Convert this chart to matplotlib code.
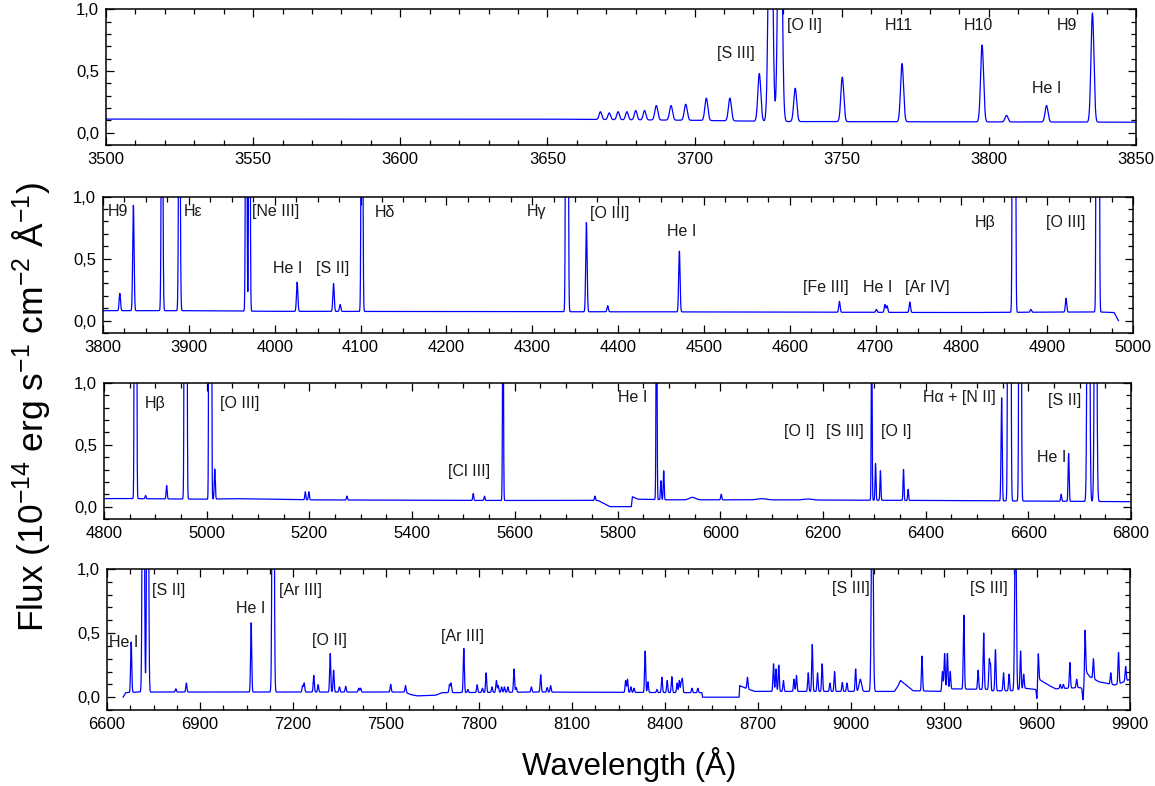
import numpy as np
import matplotlib
matplotlib.use("Agg")
import matplotlib.pyplot as plt
from matplotlib.ticker import MultipleLocator, FuncFormatter

plt.rcParams['font.family'] = ['Liberation Sans', 'DejaVu Sans']
plt.rcParams['mathtext.default'] = 'regular'

LINE_COLOR = '#0000FF'

# ---------------- Panel 1: 3500-3850 A ----------------
p1_xlim = (3500, 3850)
p1_cont_wave = [3500, 3650, 3700, 3730, 3850]
p1_cont_flux = [0.11, 0.11, 0.10, 0.09, 0.085]
p1_line_wave = [3668, 3671, 3674, 3677, 3680, 3683, 3687, 3692, 3697, 3704, 3712,
                3722, 3725.8, 3729.0, 3734.2, 3750.2, 3770.5, 3797.7, 3806, 3819.6, 3835.2]
p1_line_peak = [0.17, 0.16, 0.17, 0.17, 0.18, 0.18, 0.22, 0.22, 0.23, 0.28, 0.28,
                0.48, 3.0, 3.0, 0.36, 0.45, 0.56, 0.71, 0.14, 0.22, 0.97]
p1_line_sig = [0.45, 0.45, 0.45, 0.45, 0.45, 0.45, 0.5, 0.5, 0.5, 0.5, 0.5,
               0.5, 0.6, 0.6, 0.5, 0.5, 0.5, 0.5, 0.5, 0.5, 0.5]
p1_labels = ['[S III]', '[O II]', 'H11', 'H10', 'He I', 'H9']
p1_label_x = [3714, 3737.5, 3769.4, 3796.3, 3819.6, 3826.4]
p1_label_y = [0.64, 0.87, 0.87, 0.87, 0.36, 0.87]

# ---------------- Panel 2: 3800-5000 A ----------------
p2_xlim = (3800, 5000)
p2_cont_wave = [3800, 3900, 4000, 4500, 4800, 4960, 4978, 4983]
p2_cont_flux = [0.08, 0.08, 0.075, 0.07, 0.065, 0.07, 0.065, 0.0]
p2_line_wave = [3819.6, 3835.4, 3868.8, 3889.0, 3966.8, 3970.6, 4026.2, 4068.6, 4076.3,
                4101.7, 4340.5, 4363.2, 4388.0, 4471.5, 4658.0, 4701.0, 4711.0, 4713.5,
                4740.0, 4861.3, 4881.0, 4922.0, 4958.9]
p2_line_peak = [0.22, 0.93, 3.0, 3.0, 4.0, 4.0, 0.31, 0.30, 0.13,
                5.0, 15.0, 0.79, 0.12, 0.56, 0.155, 0.09, 0.13, 0.12,
                0.15, 30.0, 0.09, 0.18, 40.0]
p2_line_sig = [0.8, 0.8, 0.8, 0.8, 0.68, 0.68, 0.8, 0.8, 0.8,
               0.75, 0.86, 0.8, 0.8, 0.8, 0.8, 0.8, 0.8, 0.8,
               0.8, 0.9, 0.8, 0.8, 0.85]
p2_labels = ['H9', 'H\u03b5', '[Ne III]', 'He I', '[S II]', 'H\u03b4', 'H\u03b3', '[O III]',
             'He I', '[Fe III]', 'He I', '[Ar IV]', 'H\u03b2', '[O III]']
p2_label_x = [3817.5, 3905, 4001, 4015.5, 4068, 4128, 4305.6, 4390.7,
              4474.6, 4642, 4702, 4760.5, 4827.6, 4921]
p2_label_y = [0.88, 0.88, 0.88, 0.42, 0.42, 0.87, 0.88, 0.866,
              0.72, 0.27, 0.27, 0.27, 0.79, 0.79]

# ---------------- Panel 3: 4800-6800 A ----------------
p3_xlim = (4800, 6800)
p3_cont_wave = [4800, 4850, 5000, 5050, 5200, 5500, 5762, 5785, 5827, 5829, 5840,
                5900, 6100, 6400, 6600, 6800]
p3_cont_flux = [0.065, 0.065, 0.06, 0.065, 0.055, 0.05, 0.05, 0.0, 0.0, 0.08, 0.06,
                0.055, 0.055, 0.05, 0.045, 0.04]
p3_line_wave = [4861.3, 4881.0, 4922.0, 4958.9, 5006.8, 5015.7, 5192.0, 5199.0, 5273.0,
                5519.0, 5541.0, 5577.0, 5756.0, 5876.0, 5884.5, 5890.0, 5946.0, 6002.0,
                6080.0, 6170.0, 6295.0, 6302.5, 6312.0, 6357.0, 6366.0, 6548.0, 6563.0,
                6584.0, 6664.0, 6678.5, 6717.0, 6731.0]
p3_line_peak = [30.0, 0.09, 0.17, 30.0, 80.0, 0.305, 0.12, 0.12, 0.085,
                0.106, 0.085, 2.0, 0.085, 2.0, 0.21, 0.29, 0.075, 0.10,
                0.065, 0.062, 1.6, 0.35, 0.29, 0.30, 0.14, 0.88, 30.0,
                10.0, 0.10, 0.43, 6.0, 4.0]
p3_line_sig = [1.15, 1.0, 1.0, 1.3, 1.15, 1.0, 1.0, 1.0, 1.0,
               1.0, 1.0, 0.85, 1.0, 0.9, 0.9, 0.9, 6.0, 1.0,
               8.0, 8.0, 0.8, 0.9, 0.9, 0.9, 0.9, 1.1, 1.5,
               1.4, 1.0, 1.0, 1.8, 1.8]
p3_labels = ['H\u03b2', '[O III]', '[Cl III]', 'He I', '[O I]', '[S III]', '[O I]',
             'H\u03b1 + [N II]', 'He I', '[S II]']
p3_label_x = [4898.7, 5064, 5510, 5829, 6153.5, 6243.6, 6343.5, 6465.7, 6644.8, 6670]
p3_label_y = [0.836, 0.836, 0.285, 0.88, 0.61, 0.61, 0.61, 0.88, 0.40, 0.86]

# ---------------- Panel 4: 6600-9900 A ----------------
p4_xlim = (6600, 9900)
p4_cont_wave = [6652, 6660, 6700, 7000, 7560, 7580, 7600, 7660, 7680, 8000, 8519, 8521,
                8639, 8641, 8660, 8690, 9140, 9150, 9160, 9180, 9200, 9290, 9300, 9320,
                9450, 9455, 9525, 9560, 9598, 9606, 9640, 9660, 9740, 9752, 9758, 9770,
                9800, 9850, 9870, 9900]
p4_cont_flux = [0.0, 0.035, 0.04, 0.04, 0.04, 0.02, 0.01, 0.015, 0.035, 0.04, 0.035, 0.0,
                0.0, 0.09, 0.07, 0.045, 0.045, 0.08, 0.13, 0.09, 0.05, 0.045, 0.075, 0.065,
                0.06, 0.05, 0.05, 0.07, 0.06, 0.14, 0.09, 0.065, 0.075, 0.06, 0.2, 0.16,
                0.12, 0.095, 0.11, 0.14]
p4_line_wave = [6678, 6717, 6731, 6822, 6856, 7065, 7135.8, 7231, 7236, 7267, 7281,
                7320, 7331, 7350, 7370, 7412, 7418, 7515, 7563, 7705, 7710, 7751, 7764,
                7794, 7811, 7823, 7842, 7856, 7862, 7873, 7882, 7893, 7913, 7920, 7969,
                7999, 8020, 8031, 8273, 8279, 8290, 8300, 8336, 8345, 8374, 8390, 8407,
                8422, 8439, 8446, 8452, 8456, 8487, 8506, 8666, 8750, 8758, 8767, 8782,
                8816, 8824, 8862, 8875, 8892, 8907, 8932, 8947, 8972, 8987, 9015, 9030,
                9068.6, 9229, 9295, 9302, 9311, 9320, 9364, 9410, 9428, 9446, 9450.5,
                9452, 9466, 9492, 9510, 9530.6, 9547, 9557, 9600, 9604, 9675, 9685,
                9706, 9728, 9748, 9755, 9782, 9838, 9863, 9886]
p4_line_peak = [0.43, 5.0, 4.0, 0.065, 0.11, 0.58, 5.0, 0.09, 0.11, 0.17, 0.097,
                0.34, 0.21, 0.08, 0.085, 0.07, 0.07, 0.10, 0.09, 0.10, 0.11, 0.38, 0.06,
                0.097, 0.07, 0.19, 0.08, 0.13, 0.09, 0.08, 0.08, 0.08, 0.22, 0.075, 0.08,
                0.175, 0.075, 0.09, 0.13, 0.14, 0.08, 0.07, 0.36, 0.12, 0.06, 0.155, 0.13,
                0.16, 0.11, 0.13, 0.11, 0.14, 0.07, 0.07, 0.155, 0.26, 0.22, 0.25, 0.13,
                0.14, 0.17, 0.19, 0.41, 0.19, 0.26, 0.11, 0.20, 0.115, 0.11, 0.22, 0.14,
                2.0, 0.32, 0.20, 0.34, 0.34, 0.20, 0.64, 0.21, 0.50, 0.29, 0.28,
                -0.02, 0.37, 0.19, 0.18, 1.5, 0.36, 0.18, -0.02, 0.34, 0.10, 0.10,
                0.27, 0.14, -0.02, 0.52, 0.30, 0.19, 0.35, 0.24]
p4_line_sig = [1.8, 2.5, 2.4, 1.8, 1.8, 1.8, 2.5, 1.8, 1.8, 1.8, 1.8,
               1.8, 1.8, 1.8, 1.8, 1.8, 1.8, 1.8, 1.8, 1.8, 1.8, 1.8, 1.8,
               1.8, 1.8, 1.8, 1.8, 1.8, 1.8, 1.8, 1.8, 1.8, 1.8, 1.8, 1.8,
               1.8, 1.8, 1.8, 1.8, 1.8, 1.8, 1.8, 1.8, 1.8, 1.8, 1.8, 1.8,
               1.8, 1.8, 1.8, 1.8, 1.8, 1.8, 1.8, 1.8, 1.8, 1.8, 1.8, 1.8,
               1.8, 1.8, 1.8, 1.8, 1.8, 1.8, 1.8, 1.8, 1.8, 1.8, 1.8, 4.0,
               2.7, 1.8, 1.8, 1.8, 1.8, 1.8, 1.8, 1.8, 1.8, 1.8, 1.8,
               1.5, 1.8, 1.8, 1.8, 2.5, 1.8, 1.8, 1.5, 1.8, 1.8, 1.8,
               1.8, 1.8, 1.5, 1.8, 1.8, 1.8, 1.8, 1.8]
p4_labels = ['He I', '[S II]', 'He I', '[Ar III]', '[O II]', '[Ar III]', '[S III]', '[S III]']
p4_label_x = [6655, 6798, 7065, 7225, 7318, 7747, 8999, 9444]
p4_label_y = [0.43, 0.835, 0.69, 0.835, 0.44, 0.476, 0.85, 0.85]


def spectrum(grid, cont_w, cont_f, line_w, line_p, line_s):
    """Continuum through the anchor points plus one Gaussian per emission line."""
    base = np.interp(grid, cont_w, cont_f)
    flux = base.copy()
    for c, p, s in zip(line_w, line_p, line_s):
        amp = p - np.interp(c, cont_w, cont_f)
        flux += amp * np.exp(-0.5 * ((grid - c) / s) ** 2)
    return flux


panels = [
    dict(rect=(106, 9.3, 1136, 145), xlim=p1_xlim, major=50, minor=10, step=0.05,
         cw=p1_cont_wave, cf=p1_cont_flux, lw=p1_line_wave, lp=p1_line_peak, ls=p1_line_sig,
         labels=p1_labels, lx=p1_label_x, ly=p1_label_y),
    dict(rect=(103, 196.7, 1133, 333), xlim=p2_xlim, major=100, minor=25, step=0.1,
         cw=p2_cont_wave, cf=p2_cont_flux, lw=p2_line_wave, lp=p2_line_peak, ls=p2_line_sig,
         labels=p2_labels, lx=p2_label_x, ly=p2_label_y),
    dict(rect=(104, 383, 1131, 519), xlim=p3_xlim, major=200, minor=50, step=0.2,
         cw=p3_cont_wave, cf=p3_cont_flux, lw=p3_line_wave, lp=p3_line_peak, ls=p3_line_sig,
         labels=p3_labels, lx=p3_label_x, ly=p3_label_y),
    dict(rect=(107, 569, 1130, 710), xlim=p4_xlim, major=300, minor=75, step=0.25,
         cw=p4_cont_wave, cf=p4_cont_flux, lw=p4_line_wave, lp=p4_line_peak, ls=p4_line_sig,
         labels=p4_labels, lx=p4_label_x, ly=p4_label_y),
]

W, H = 1155, 786
fig = plt.figure(figsize=(W / 100, H / 100), dpi=100)

comma = FuncFormatter(lambda v, pos: f"{v:.1f}".replace('.', ','))

for p in panels:
    x0, y0, x1, y1 = p['rect']
    ax = fig.add_axes([x0 / W, 1 - y1 / H, (x1 - x0) / W, (y1 - y0) / H])
    lo = max(p['xlim'][0], p['cw'][0])
    hi = min(p['xlim'][1], p['cw'][-1])
    grid = np.arange(lo, hi + p['step'] / 2, p['step'])
    flux = spectrum(grid, p['cw'], p['cf'], p['lw'], p['lp'], p['ls'])
    ax.plot(grid, flux, color=LINE_COLOR, lw=0.9)

    ax.set_xlim(*p['xlim'])
    ax.set_ylim(-0.1, 1.0)
    ax.xaxis.set_major_locator(MultipleLocator(p['major']))
    ax.xaxis.set_minor_locator(MultipleLocator(p['minor']))
    ax.yaxis.set_major_locator(MultipleLocator(0.5))
    ax.yaxis.set_minor_locator(MultipleLocator(0.1))
    ax.yaxis.set_major_formatter(comma)
    ax.tick_params(which='both', direction='in', top=True, right=True, width=0.9)
    ax.tick_params(which='major', length=6, labelsize=12, pad=5)
    ax.tick_params(which='minor', length=3.5)
    for sp in ax.spines.values():
        sp.set_linewidth(1.1)

    for txt, lx, ly in zip(p['labels'], p['lx'], p['ly']):
        ax.text(lx, ly, txt, ha='center', va='center', fontsize=11.5, color='#1a1a1a')

fig.text(32 / W, 1 - 407 / H, 'Flux (10$^{-14}$ erg s$^{-1}$ cm$^{-2}$ \u00c5$^{-1}$)',
         rotation=90, ha='center', va='center', fontsize=25.5)
fig.text(629 / W, 1 - 775 / H, 'Wavelength (\u00c5)', ha='center', va='baseline', fontsize=22.5)

fig.savefig('out.png', dpi=100)
